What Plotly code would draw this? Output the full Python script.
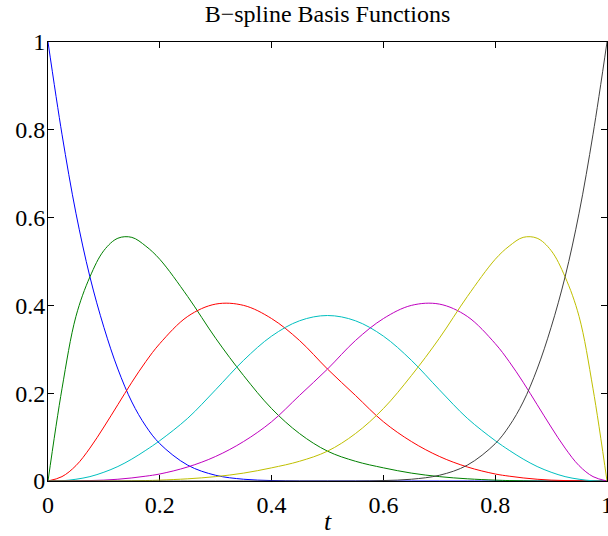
import plotly.graph_objects as go

t = [0, 0.025, 0.05, 0.075, 0.1, 0.125, 0.15, 0.175, 0.2, 0.25, 0.3, 0.35, 0.4, 0.45,
     0.5, 0.55, 0.6, 0.65, 0.7, 0.75, 0.8, 0.825, 0.85, 0.875, 0.9, 0.925, 0.95, 0.975, 1]

n_blue = [1.0, 0.79, 0.61, 0.465, 0.35, 0.255, 0.18, 0.125, 0.085, 0.036, 0.013, 0.004, 0.001, 0,
          0, 0, 0, 0, 0, 0, 0, 0, 0, 0, 0, 0, 0, 0, 0]
n_green = [0, 0.21, 0.375, 0.465, 0.525, 0.553, 0.555, 0.535, 0.505, 0.42, 0.325, 0.24, 0.165, 0.108,
           0.068, 0.045, 0.03, 0.018, 0.01, 0.005, 0.002, 0.001, 0.0005, 0, 0, 0, 0, 0, 0]
n_red = [0, 0.01, 0.035, 0.075, 0.123, 0.174, 0.225, 0.272, 0.313, 0.375, 0.403, 0.40, 0.37, 0.32,
         0.255, 0.195, 0.135, 0.09, 0.056, 0.032, 0.016, 0.011, 0.007, 0.004, 0.002, 0.001, 0.0005, 0, 0]
n_cyan = [0, 0.0005, 0.004, 0.01, 0.02, 0.033, 0.05, 0.07, 0.092, 0.143, 0.208, 0.275, 0.33, 0.365,
          0.377, 0.365, 0.33, 0.275, 0.208, 0.143, 0.092, 0.07, 0.05, 0.033, 0.02, 0.01, 0.004, 0.0005, 0]
n_magenta = [0, 0, 0.0005, 0.001, 0.002, 0.004, 0.007, 0.011, 0.016, 0.032, 0.056, 0.09, 0.135, 0.195,
             0.255, 0.32, 0.37, 0.40, 0.403, 0.375, 0.313, 0.272, 0.225, 0.174, 0.123, 0.075, 0.035, 0.01, 0]
n_yellow = [0, 0, 0, 0, 0, 0, 0.0005, 0.001, 0.002, 0.005, 0.01, 0.018, 0.03, 0.045,
            0.068, 0.108, 0.165, 0.24, 0.325, 0.42, 0.505, 0.535, 0.555, 0.553, 0.525, 0.465, 0.375, 0.21, 0]
n_gray = [0, 0, 0, 0, 0, 0, 0, 0, 0, 0, 0, 0, 0, 0,
          0, 0, 0.001, 0.004, 0.013, 0.036, 0.085, 0.125, 0.18, 0.255, 0.35, 0.465, 0.61, 0.79, 1.0]

series = [n_blue, n_green, n_red, n_cyan, n_magenta, n_yellow, n_gray]
colors = ["#0000ff", "#008000", "#ff0000", "#00bfbf", "#bf00bf", "#bfbf00", "#404040"]

tick_vals = [0, 0.2, 0.4, 0.6, 0.8, 1]
tick_text = ["0", "0.2", "0.4", "0.6", "0.8", "1"]

FONT = "Liberation Serif"

fig = go.Figure()
for ys, c in zip(series, colors):
    fig.add_trace(go.Scatter(x=t, y=ys, mode="lines",
                             line=dict(color=c, width=1, shape="spline", smoothing=1.0),
                             showlegend=False, hoverinfo="skip"))

axis_common = dict(
    range=[0, 1], tickvals=tick_vals, ticktext=tick_text,
    ticks="inside", ticklen=6, tickwidth=1, tickcolor="black",
    showline=True, linecolor="black", linewidth=1, mirror="ticks",
    showgrid=False, zeroline=False, layer="below traces",
    ticklabeloverflow="allow", automargin=False,
    tickfont=dict(family=FONT, size=24, color="black"),
)

fig.update_layout(
    width=608, height=536,
    margin=dict(l=48, r=1, t=42, b=55),
    paper_bgcolor="white", plot_bgcolor="white",
    title=dict(text="B\u2212spline Basis Functions", x=0.5, xref="paper", xanchor="center",
               y=1 - 14 / 536, yref="container", yanchor="middle",
               font=dict(family=FONT, size=24, color="black")),
    xaxis=dict(**axis_common, ticklabelstandoff=2,
               title=dict(text="<i>t</i>", standoff=0,
                          font=dict(family=FONT, size=26, color="black"))),
    yaxis=dict(**axis_common, ticklabelstandoff=-3),
)

fig.write_html("out.html")
